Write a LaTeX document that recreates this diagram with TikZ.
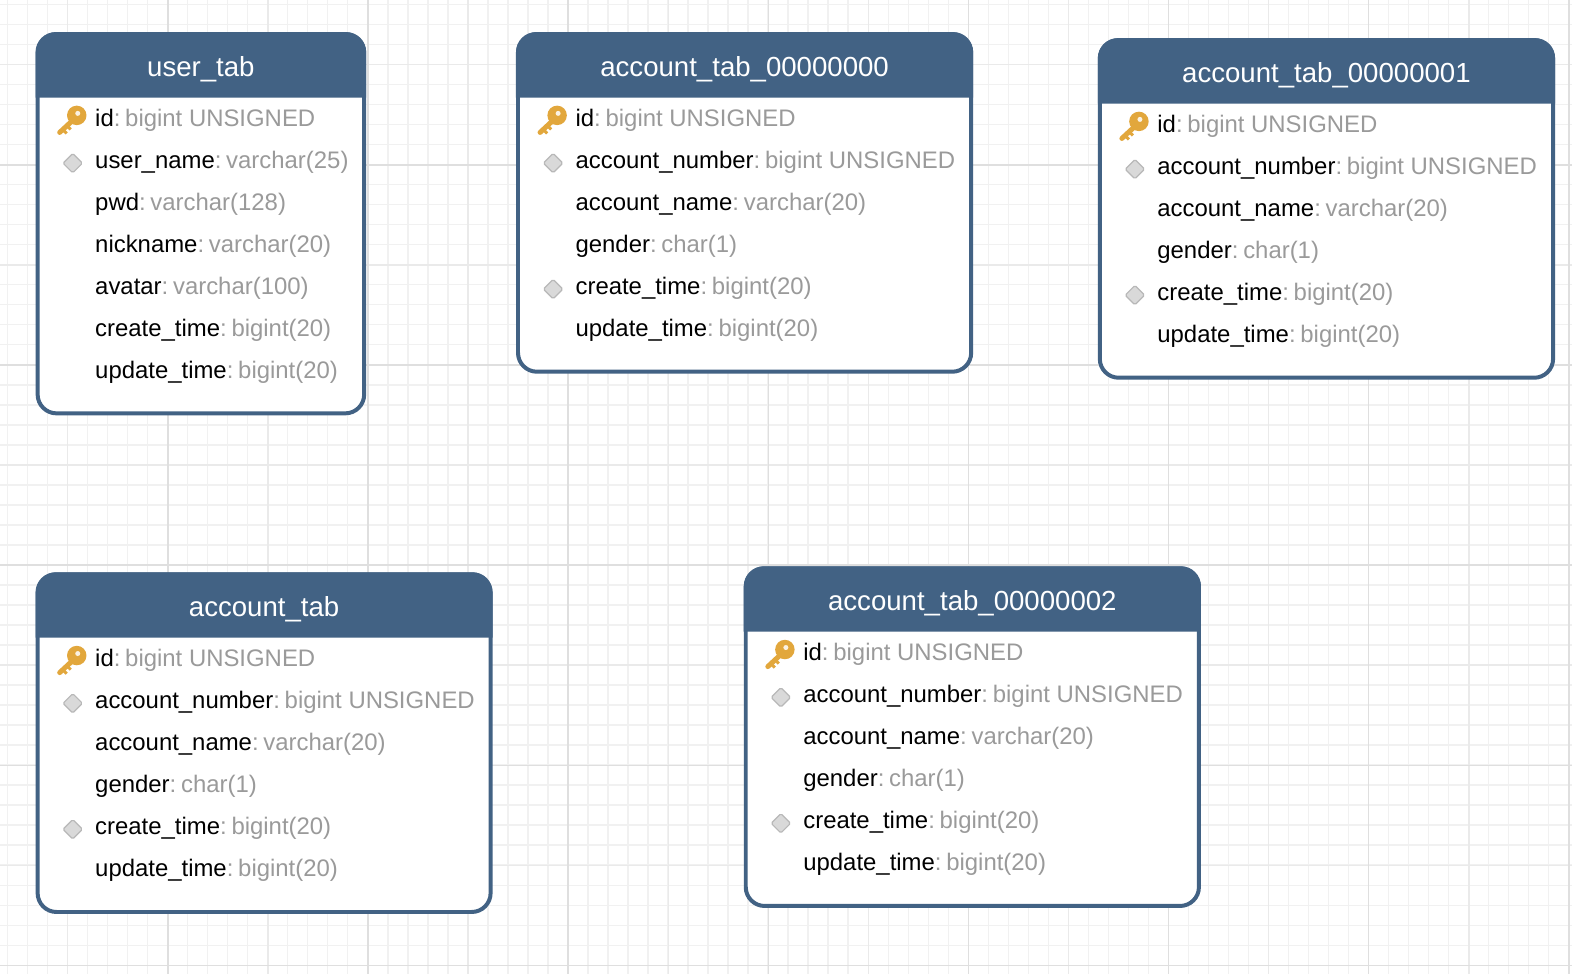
\documentclass[tikz,border=0pt]{standalone}
\usepackage{fontspec}
\setmainfont{Liberation Sans}
\usetikzlibrary{shapes.geometric}
\definecolor{hdr}{HTML}{426284}
\definecolor{typeg}{HTML}{9A9A9A}
\definecolor{keyc}{HTML}{E2A73C}
\definecolor{gmin}{HTML}{F1F1F1}
\definecolor{gmid}{HTML}{EAEAEA}
\definecolor{gmaj}{HTML}{DFDFDF}
\tikzset{
  rowtext/.style={anchor=base west,inner sep=0pt,font=\fontsize{24}{28}\selectfont},
  titletext/.style={anchor=base,inner sep=0pt,text=white,font=\fontsize{27.7}{30}\selectfont},
  idxmark/.style={diamond,draw=black!28,fill=black!15,line width=1.2pt,rounded corners=1.5pt,minimum width=20pt,minimum height=20pt,inner sep=0pt},
  tableframe/.style={draw=hdr,line width=4pt,fill=white,rounded corners=19pt}
}
% #1 id, #2 left, #3 top, #4 right, #5 bottom, #6 title, #7 rows
\newcommand{\dbtable}[7]{%
  \draw[tableframe] (#2+2,#3+2) rectangle (#4-2,#5-2);
  \fill[hdr] (#2,#3+65.2) [rounded corners=20pt] -- (#2,#3) -- (#4,#3) [sharp corners] -- (#4,#3+65.2) -- cycle;
  \node[titletext] (#1-title) at ({(#2+#4)/2},#3+43.8) {#6};
  \begin{scope}[shift={(#2,#3)}]
    \draw[keyc,line width=5pt,line cap=round] (38,87) -- (24,100);
    \draw[keyc,line width=3pt] (27,97) -- (31,101) (31,93) -- (35,97);
    \fill[keyc] (41,83) circle[radius=9.7];
    \fill[white!85!keyc] (42,81) circle[radius=2.5];
    \foreach \n/\t/\i [count=\c from 0] in {#7}{
      \node[rowtext] (#1-row\c) at (59.2,93.8+41.84*\c) {\n\textcolor{typeg}{:\kern-4.1pt{} \t}};
      \ifnum\i=1 \node[idxmark] (#1-idx\c) at (37,88.8+41.84*\c) {};\fi
    }
  \end{scope}
}
\begin{document}
\begin{tikzpicture}[x=1.0033bp,y=-1.0033bp]
\useasboundingbox (0bp,0bp) rectangle (1572bp,-974bp);
\fill[white] (0bp,0bp) rectangle (1572bp,-974bp);
% grid
\foreach \k in {0,...,78}{
  \pgfmathsetmacro\gx{7.5+19.95*\k}
  \draw[gmin,line width=1.4pt] (\gx,-10) -- (\gx,984);
}
\foreach \k in {0,...,48}{
  \pgfmathsetmacro\gy{4.5+19.95*\k}
  \draw[gmin,line width=1.4pt] (-10,\gy) -- (1582,\gy);
}
\foreach \k in {0,...,15}{
  \pgfmathsetmacro\gx{67.5+99.75*\k}
  \draw[gmid,line width=1.4pt] (\gx,-10) -- (\gx,984);
}
\foreach \k in {0,...,9}{
  \pgfmathsetmacro\gy{64.5+99.75*\k}
  \draw[gmid,line width=1.4pt] (-10,\gy) -- (1582,\gy);
}
\foreach \k in {0,...,7}{
  \pgfmathsetmacro\gx{167.3+199.5*\k}
  \draw[gmaj,line width=1.4pt] (\gx,-10) -- (\gx,984);
}
\foreach \k in {0,...,4}{
  \pgfmathsetmacro\gy{164.3+199.5*\k}
  \draw[gmaj,line width=1.4pt] (-10,\gy) -- (1582,\gy);
}
\dbtable{user}{35.5}{32}{365}{414}{user\_tab}{id/bigint UNSIGNED/0,user\_name/varchar(25)/1,pwd/varchar(128)/0,nickname/varchar(20)/0,avatar/varchar(100)/0,create\_time/bigint(20)/0,update\_time/bigint(20)/0}
\dbtable{a0}{514.3}{32}{970}{372.5}{account\_tab\_00000000}{id/bigint UNSIGNED/0,account\_number/bigint UNSIGNED/1,account\_name/varchar(20)/0,gender/char(1)/0,create\_time/bigint(20)/1,update\_time/bigint(20)/0}
\dbtable{a1}{1094.2}{38}{1550}{378.5}{account\_tab\_00000001}{id/bigint UNSIGNED/0,account\_number/bigint UNSIGNED/1,account\_name/varchar(20)/0,gender/char(1)/0,create\_time/bigint(20)/1,update\_time/bigint(20)/0}
\dbtable{a}{35.5}{570.4}{491}{911}{account\_tab}{id/bigint UNSIGNED/0,account\_number/bigint UNSIGNED/1,account\_name/varchar(20)/0,gender/char(1)/0,create\_time/bigint(20)/1,update\_time/bigint(20)/0}
\dbtable{a2}{741.3}{564.4}{1197}{905}{account\_tab\_00000002}{id/bigint UNSIGNED/0,account\_number/bigint UNSIGNED/1,account\_name/varchar(20)/0,gender/char(1)/0,create\_time/bigint(20)/1,update\_time/bigint(20)/0}
\end{tikzpicture}
\end{document}
